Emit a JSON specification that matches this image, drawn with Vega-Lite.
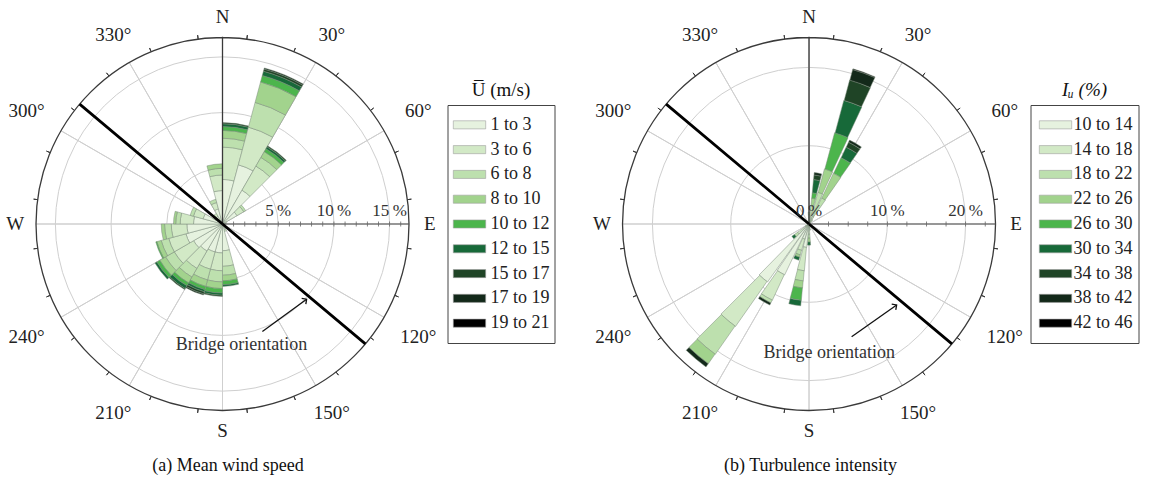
{
  "$schema": "https://vega.github.io/schema/vega-lite/v6.json",
  "background": "white",
  "padding": {"left": 5.5, "top": 7.5, "right": 0, "bottom": 0},
  "config": {"view": {"stroke": null}, "font": "Liberation Serif", "title": {"font": "Liberation Serif", "fontWeight": "normal", "color": "#111"}},
  "datasets": {
    "wsA": [
      {"d0":0,"d1":15,"l":1,"f":4.0},{"d0":0,"d1":15,"l":2,"f":2.9},{"d0":0,"d1":15,"l":3,"f":0.8},{"d0":0,"d1":15,"l":4,"f":0.7},{"d0":0,"d1":15,"l":5,"f":0.35},{"d0":0,"d1":15,"l":6,"f":0.25},{"d0":0,"d1":15,"l":7,"f":0.1},
      {"d0":15,"d1":30,"l":1,"f":5.5},{"d0":15,"d1":30,"l":2,"f":3.5},{"d0":15,"d1":30,"l":3,"f":2.3},{"d0":15,"d1":30,"l":4,"f":1.9},{"d0":15,"d1":30,"l":5,"f":0.6},{"d0":15,"d1":30,"l":6,"f":0.4},{"d0":15,"d1":30,"l":7,"f":0.2},{"d0":15,"d1":30,"l":8,"f":0.1},
      {"d0":30,"d1":45,"l":1,"f":3.5},{"d0":30,"d1":45,"l":2,"f":2.5},{"d0":30,"d1":45,"l":3,"f":0.9},{"d0":30,"d1":45,"l":4,"f":0.6},{"d0":30,"d1":45,"l":5,"f":0.3},{"d0":30,"d1":45,"l":6,"f":0.2},{"d0":30,"d1":45,"l":7,"f":0.1},
      {"d0":45,"d1":60,"l":1,"f":1.5},{"d0":45,"d1":60,"l":2,"f":0.7},{"d0":45,"d1":60,"l":3,"f":0.2},
      {"d0":60,"d1":75,"l":1,"f":0.4},
      {"d0":75,"d1":90,"l":1,"f":0.3},
      {"d0":90,"d1":105,"l":1,"f":0.3},
      {"d0":105,"d1":120,"l":1,"f":0.3},
      {"d0":120,"d1":135,"l":1,"f":0.3},
      {"d0":135,"d1":150,"l":1,"f":0.3},
      {"d0":150,"d1":165,"l":1,"f":0.5},{"d0":150,"d1":165,"l":2,"f":0.2},
      {"d0":165,"d1":180,"l":1,"f":2.4},{"d0":165,"d1":180,"l":2,"f":1.4},{"d0":165,"d1":180,"l":3,"f":0.8},{"d0":165,"d1":180,"l":4,"f":0.5},{"d0":165,"d1":180,"l":5,"f":0.35},{"d0":165,"d1":180,"l":6,"f":0.15},
      {"d0":180,"d1":195,"l":1,"f":2.6},{"d0":180,"d1":195,"l":2,"f":1.6},{"d0":180,"d1":195,"l":3,"f":1.0},{"d0":180,"d1":195,"l":4,"f":0.6},{"d0":180,"d1":195,"l":5,"f":0.4},{"d0":180,"d1":195,"l":6,"f":0.2},{"d0":180,"d1":195,"l":7,"f":0.1},
      {"d0":195,"d1":210,"l":1,"f":2.6},{"d0":195,"d1":210,"l":2,"f":1.6},{"d0":195,"d1":210,"l":3,"f":1.0},{"d0":195,"d1":210,"l":4,"f":0.6},{"d0":195,"d1":210,"l":5,"f":0.3},{"d0":195,"d1":210,"l":6,"f":0.2},{"d0":195,"d1":210,"l":7,"f":0.2},{"d0":195,"d1":210,"l":8,"f":0.1},
      {"d0":210,"d1":225,"l":1,"f":2.8},{"d0":210,"d1":225,"l":2,"f":1.8},{"d0":210,"d1":225,"l":3,"f":0.9},{"d0":210,"d1":225,"l":4,"f":0.6},{"d0":210,"d1":225,"l":5,"f":0.3},{"d0":210,"d1":225,"l":6,"f":0.3},{"d0":210,"d1":225,"l":7,"f":0.1},
      {"d0":225,"d1":240,"l":1,"f":3.0},{"d0":225,"d1":240,"l":2,"f":2.0},{"d0":225,"d1":240,"l":3,"f":0.9},{"d0":225,"d1":240,"l":4,"f":0.6},{"d0":225,"d1":240,"l":5,"f":0.3},{"d0":225,"d1":240,"l":6,"f":0.2},
      {"d0":240,"d1":255,"l":1,"f":3.4},{"d0":240,"d1":255,"l":2,"f":1.6},{"d0":240,"d1":255,"l":3,"f":0.7},{"d0":240,"d1":255,"l":4,"f":0.4},{"d0":240,"d1":255,"l":5,"f":0.1},
      {"d0":255,"d1":270,"l":1,"f":3.2},{"d0":255,"d1":270,"l":2,"f":1.4},{"d0":255,"d1":270,"l":3,"f":0.6},{"d0":255,"d1":270,"l":4,"f":0.3},
      {"d0":270,"d1":285,"l":1,"f":2.6},{"d0":270,"d1":285,"l":2,"f":1.2},{"d0":270,"d1":285,"l":3,"f":0.4},{"d0":270,"d1":285,"l":4,"f":0.2},
      {"d0":285,"d1":300,"l":1,"f":1.8},{"d0":285,"d1":300,"l":2,"f":0.9},{"d0":285,"d1":300,"l":3,"f":0.3},
      {"d0":300,"d1":315,"l":1,"f":0.7},{"d0":300,"d1":315,"l":2,"f":0.3},
      {"d0":315,"d1":330,"l":1,"f":0.8},{"d0":315,"d1":330,"l":2,"f":0.3},
      {"d0":330,"d1":345,"l":1,"f":1.4},{"d0":330,"d1":345,"l":2,"f":0.6},{"d0":330,"d1":345,"l":3,"f":0.3},
      {"d0":345,"d1":360,"l":1,"f":3.0},{"d0":345,"d1":360,"l":2,"f":1.4},{"d0":345,"d1":360,"l":3,"f":0.6},{"d0":345,"d1":360,"l":4,"f":0.4}
    ],
    "tiB": [
      {"d0":-5,"d1":5,"l":1,"f":0.3},{"d0":-5,"d1":5,"l":2,"f":0.5},{"d0":-5,"d1":5,"l":3,"f":0.4},{"d0":-5,"d1":5,"l":4,"f":0.3},
      {"d0":5,"d1":15,"l":1,"f":0.3},{"d0":5,"d1":15,"l":2,"f":0.7},{"d0":5,"d1":15,"l":3,"f":1.3},{"d0":5,"d1":15,"l":4,"f":1.0},{"d0":5,"d1":15,"l":5,"f":0.7},{"d0":5,"d1":15,"l":6,"f":1.7},{"d0":5,"d1":15,"l":7,"f":0.6},{"d0":5,"d1":15,"l":8,"f":0.3},
      {"d0":15,"d1":25,"l":1,"f":0.3},{"d0":15,"d1":25,"l":2,"f":1.0},{"d0":15,"d1":25,"l":3,"f":2.9},{"d0":15,"d1":25,"l":4,"f":3.1},{"d0":15,"d1":25,"l":5,"f":4.8},{"d0":15,"d1":25,"l":6,"f":4.3},{"d0":15,"d1":25,"l":7,"f":2.7},{"d0":15,"d1":25,"l":8,"f":1.4},{"d0":15,"d1":25,"l":9,"f":0.1},
      {"d0":25,"d1":35,"l":1,"f":0.3},{"d0":25,"d1":35,"l":2,"f":0.8},{"d0":25,"d1":35,"l":3,"f":2.6},{"d0":25,"d1":35,"l":4,"f":3.5},{"d0":25,"d1":35,"l":5,"f":2.2},{"d0":25,"d1":35,"l":6,"f":1.5},{"d0":25,"d1":35,"l":7,"f":0.7},{"d0":25,"d1":35,"l":8,"f":0.3},
      {"d0":35,"d1":45,"l":1,"f":0.3},{"d0":35,"d1":45,"l":2,"f":0.4},
      {"d0":165,"d1":175,"l":1,"f":0.4},{"d0":165,"d1":175,"l":2,"f":0.4},
      {"d0":175,"d1":185,"l":1,"f":0.5},{"d0":175,"d1":185,"l":2,"f":0.8},{"d0":175,"d1":185,"l":3,"f":0.5},{"d0":175,"d1":185,"l":4,"f":0.5},{"d0":175,"d1":185,"l":6,"f":0.4},
      {"d0":185,"d1":195,"l":1,"f":3.0},{"d0":185,"d1":195,"l":2,"f":3.0},{"d0":185,"d1":195,"l":3,"f":1.3},{"d0":185,"d1":195,"l":4,"f":0.9},{"d0":185,"d1":195,"l":5,"f":1.6},{"d0":185,"d1":195,"l":6,"f":0.7},
      {"d0":195,"d1":205,"l":1,"f":2.0},{"d0":195,"d1":205,"l":2,"f":1.5},{"d0":195,"d1":205,"l":3,"f":0.6},{"d0":195,"d1":205,"l":4,"f":0.3},{"d0":195,"d1":205,"l":6,"f":0.4},
      {"d0":205,"d1":215,"l":1,"f":7.2},{"d0":205,"d1":215,"l":2,"f":3.6},{"d0":205,"d1":215,"l":3,"f":0.4},{"d0":205,"d1":215,"l":8,"f":0.3},
      {"d0":215,"d1":225,"l":1,"f":9.1},{"d0":215,"d1":225,"l":2,"f":7.0},{"d0":215,"d1":225,"l":3,"f":4.4},{"d0":215,"d1":225,"l":4,"f":1.5},{"d0":215,"d1":225,"l":8,"f":0.5},
      {"d0":225,"d1":235,"l":1,"f":0.8},{"d0":225,"d1":235,"l":2,"f":1.0},{"d0":225,"d1":235,"l":3,"f":0.5},{"d0":225,"d1":235,"l":6,"f":0.4},
      {"d0":235,"d1":245,"l":1,"f":0.3},{"d0":235,"d1":245,"l":2,"f":0.3}
    ],
    "legA": [
      {"l":1,"lab":"\u00a0\u00a01 to 3"},{"l":2,"lab":"\u00a0\u00a03 to 6"},{"l":3,"lab":"\u00a0\u00a06 to 8"},{"l":4,"lab":"8 to 10"},{"l":5,"lab":"10 to 12"},{"l":6,"lab":"12 to 15"},{"l":7,"lab":"15 to 17"},{"l":8,"lab":"17 to 19"},{"l":9,"lab":"19 to 21"}
    ],
    "legB": [
      {"l":1,"lab":"10 to 14"},{"l":2,"lab":"14 to 18"},{"l":3,"lab":"18 to 22"},{"l":4,"lab":"22 to 26"},{"l":5,"lab":"26 to 30"},{"l":6,"lab":"30 to 34"},{"l":7,"lab":"34 to 38"},{"l":8,"lab":"38 to 42"},{"l":9,"lab":"42 to 46"}
    ],
    "spokes": [{"a":0},{"a":30},{"a":60},{"a":90},{"a":120},{"a":150},{"a":180},{"a":210},{"a":240},{"a":270},{"a":300},{"a":330}],
    "oticks": [{"a":7.5},{"a":22.5},{"a":37.5},{"a":52.5},{"a":67.5},{"a":82.5},{"a":97.5},{"a":112.5},{"a":127.5},{"a":142.5},{"a":157.5},{"a":172.5},{"a":187.5},{"a":202.5},{"a":217.5},{"a":232.5},{"a":247.5},{"a":262.5},{"a":277.5},{"a":292.5},{"a":307.5},{"a":322.5},{"a":337.5},{"a":352.5}],
    "bridge": [{"a":130},{"a":310}],
    "compass": [{"t":"N","a":0},{"t":"E","a":90},{"t":"S","a":180},{"t":"W","a":270}],
    "degA": [{"t":"30°","a":30},{"t":"150°","a":150},{"t":"210°","a":210},{"t":"330°","a":330}],
    "degB": [{"t":"60°","a":60},{"t":"120°","a":120},{"t":"240°","a":240},{"t":"300°","a":300}],
    "ticksA": [{"v":1},{"v":2},{"v":3},{"v":4},{"v":5},{"v":6},{"v":7},{"v":8},{"v":9},{"v":10},{"v":11},{"v":12},{"v":13},{"v":14},{"v":15},{"v":16}],
    "ticksB": [{"v":2.5},{"v":5},{"v":7.5},{"v":10},{"v":12.5},{"v":15},{"v":17.5},{"v":20},{"v":22.5}],
    "one": [{}]
  },
  "bounds": "flush",
  "center": true,
  "spacing": 20,
  "resolve": {"scale": {"theta": "independent", "radius": "independent", "x": "independent", "y": "independent"}},
  "hconcat": [
    {
      "width": 409, "height": 373,
      "title": {"text": "(a)  Mean wind speed", "orient": "bottom", "frame": "group", "anchor": "middle", "offset": 16, "fontSize": 18, "dx": 5},
      "layer": [
        {"data": {"values": [{"r":5},{"r":10},{"r":15}]}, "mark": {"type":"arc","fillOpacity":0,"stroke":"#cfcfcf","strokeWidth":1},
         "encoding": {"x": {"datum":0,"type":"quantitative","axis":null,"scale":{"domain":[-18.31,18.4],"nice":false,"zero":false}},
                      "y": {"datum":0,"type":"quantitative","axis":null,"scale":{"domain":[-16.74,16.74],"nice":false,"zero":false}},
                      "theta": {"datum":0,"type":"quantitative","scale":{"type":"linear","domain":[0,360],"range":[0,6.283185307],"nice":false,"zero":false}}, "theta2": {"datum":360},
                      "radius": {"field":"r","type":"quantitative","stack":null,"scale":{"type":"linear","domain":[0,16.74],"range":[0,186.5],"nice":false,"zero":true}}}},
        {"data": {"name":"spokes"}, "mark": {"type":"arc","fillOpacity":0,"stroke":"#cfcfcf","strokeWidth":1},
         "encoding": {"x": {"datum":0,"type":"quantitative"}, "y": {"datum":0,"type":"quantitative"},
                      "theta": {"field":"a","type":"quantitative","stack":null}, "theta2": {"field":"a"}, "radius": {"datum":16.74,"type":"quantitative"}}},
        {"data": {"name":"wsA"}, "transform": [{"stack":"f","groupby":["d0"],"sort":[{"field":"l","order":"ascending"}],"as":["r0","r1"]}],
         "mark": {"type":"arc","stroke":"#7a8a7a","strokeWidth":0.5},
         "encoding": {"x": {"datum":0,"type":"quantitative"}, "y": {"datum":0,"type":"quantitative"},
                      "theta": {"field":"d0","type":"quantitative","stack":null}, "theta2": {"field":"d1"},
                      "radius": {"field":"r1","type":"quantitative","stack":null}, "radius2": {"field":"r0"},
                      "color": {"field":"l","type":"ordinal","legend":null,"scale":{"domain":[1,2,3,4,5,6,7,8,9],"range":["#e6f2df","#d2e9c6","#bde0ae","#a2d38d","#4cb54c","#176939","#1f4426","#13291a","#000000"]}}}},
        {"data": {"name":"one"}, "mark": {"type":"arc","fillOpacity":0,"stroke":"#3a3a3a","strokeWidth":1.3},
         "encoding": {"x": {"datum":0,"type":"quantitative"}, "y": {"datum":0,"type":"quantitative"},
                      "theta": {"datum":0,"type":"quantitative"}, "theta2": {"datum":360}, "radius": {"datum":16.74,"type":"quantitative"}}},
        {"data": {"name":"oticks"}, "mark": {"type":"arc","fillOpacity":0,"stroke":"#3a3a3a","strokeWidth":1},
         "encoding": {"x": {"datum":0,"type":"quantitative"}, "y": {"datum":0,"type":"quantitative"},
                      "theta": {"field":"a","type":"quantitative","stack":null}, "theta2": {"field":"a"}, "radius": {"datum":17.1,"type":"quantitative"}, "radius2": {"datum":16.74}}},
        {"data": {"name":"one"}, "mark": {"type":"rule","stroke":"#555","strokeWidth":1.2},
         "encoding": {"x": {"datum":0,"type":"quantitative"}, "x2": {"datum":16.74}, "y": {"datum":0,"type":"quantitative"}}},
        {"data": {"name":"ticksA"}, "mark": {"type":"tick","orient":"vertical","size":5,"thickness":0.8,"color":"#666","opacity":1},
         "encoding": {"x": {"field":"v","type":"quantitative"}, "y": {"datum":0,"type":"quantitative"}}},
        {"data": {"name":"bridge"}, "mark": {"type":"arc","fillOpacity":0,"stroke":"#000","strokeWidth":2.8},
         "encoding": {"x": {"datum":0,"type":"quantitative"}, "y": {"datum":0,"type":"quantitative"},
                      "theta": {"field":"a","type":"quantitative","stack":null}, "theta2": {"field":"a"}, "radius": {"datum":16.74,"type":"quantitative"}}},
        {"data": {"name":"one"}, "mark": {"type":"rule","stroke":"#111","strokeWidth":1.3},
         "encoding": {"x": {"datum":3.58,"type":"quantitative"}, "y": {"datum":-9.65,"type":"quantitative"}, "x2": {"datum":7.55}, "y2": {"datum":-6.75}}},
        {"data": {"name":"one"}, "mark": {"type":"point","shape":"M-1,1L0,0L1,1","filled":false,"stroke":"#111","strokeWidth":1.3,"size":50,"angle":54,"opacity":1},
         "encoding": {"x": {"datum":7.55,"type":"quantitative"}, "y": {"datum":-6.75,"type":"quantitative"}}},
        {"data": {"name":"one"}, "mark": {"type":"text","text":"Bridge orientation","fontSize":18,"color":"#333","align":"center","baseline":"middle"},
         "encoding": {"x": {"datum":1.7,"type":"quantitative"}, "y": {"datum":-10.84,"type":"quantitative"}}},
        {"data": {"values": [{"v":5,"t":"5\u2009%"},{"v":10,"t":"10\u2009%"},{"v":15,"t":"15\u2009%"}]}, "mark": {"type":"text","fontSize":17,"color":"#333","align":"center","baseline":"alphabetic","dy":-8},
         "encoding": {"x": {"field":"v","type":"quantitative"}, "y": {"datum":0,"type":"quantitative"}, "text": {"field":"t"}}},
        {"data": {"name":"compass"}, "mark": {"type":"text","fontSize":19,"color":"#222","align":"center","baseline":"middle"},
         "encoding": {"x": {"datum":0,"type":"quantitative"}, "y": {"datum":0,"type":"quantitative"},
                      "theta": {"field":"a","type":"quantitative","stack":null}, "radius": {"datum":18.6,"type":"quantitative"}, "text": {"field":"t"}}},
        {"data": {"name":"degA"}, "mark": {"type":"text","fontSize":19,"color":"#222","align":"center","baseline":"middle"},
         "encoding": {"x": {"datum":0,"type":"quantitative"}, "y": {"datum":0,"type":"quantitative"},
                      "theta": {"field":"a","type":"quantitative","stack":null}, "radius": {"datum":19.6,"type":"quantitative"}, "text": {"field":"t"}}},
        {"data": {"name":"degB"}, "mark": {"type":"text","fontSize":19,"color":"#222","align":"center","baseline":"middle"},
         "encoding": {"x": {"datum":0,"type":"quantitative"}, "y": {"datum":0,"type":"quantitative"},
                      "theta": {"field":"a","type":"quantitative","stack":null}, "radius": {"datum":20.3,"type":"quantitative"}, "text": {"field":"t"}}}
      ]
    },
    {
      "width": 107, "height": 238,
      "view": {"stroke": "#444", "strokeWidth": 1},
      "title": {"text": "U\u0305 (m/s)", "orient": "top", "frame": "group", "anchor": "middle", "offset": 5, "fontSize": 19},
      "data": {"name": "legA"},
      "layer": [
        {"mark": {"type":"point","shape":"M-1,-0.25H1V0.25H-1Z","size":1050,"filled":true,"stroke":"#a0a0a0","strokeWidth":0.6,"opacity":1},
         "encoding": {"y": {"field":"l","type":"ordinal","axis":null,"scale":{"type":"point","padding":0.8}},
                      "x": {"value":22},
                      "fill": {"field":"l","type":"ordinal","legend":null,"scale":{"domain":[1,2,3,4,5,6,7,8,9],"range":["#e6f2df","#d2e9c6","#bde0ae","#a2d38d","#4cb54c","#176939","#1f4426","#13291a","#000000"]}}}},
        {"mark": {"type":"text","align":"left","baseline":"middle","fontSize":18,"color":"#222"},
         "encoding": {"y": {"field":"l","type":"ordinal","axis":null,"scale":{"type":"point","padding":0.8}},
                      "x": {"value":43}, "text": {"field":"lab"}}}
      ]
    },
    {
      "width": 436, "height": 373,
      "title": {"text": "(b)  Turbulence intensity", "orient": "bottom", "frame": "group", "anchor": "middle", "offset": 16, "fontSize": 18, "dx": 18},
      "layer": [
        {"data": {"values": [{"r":10},{"r":20}]}, "mark": {"type":"arc","fillOpacity":0,"stroke":"#cfcfcf","strokeWidth":1},
         "encoding": {"x": {"datum":0,"type":"quantitative","axis":null,"scale":{"domain":[-29.95,25.73],"nice":false,"zero":false}},
                      "y": {"datum":0,"type":"quantitative","axis":null,"scale":{"domain":[-23.82,23.82],"nice":false,"zero":false}},
                      "theta": {"datum":0,"type":"quantitative","scale":{"type":"linear","domain":[0,360],"range":[0,6.283185307],"nice":false,"zero":false}}, "theta2": {"datum":360},
                      "radius": {"field":"r","type":"quantitative","stack":null,"scale":{"type":"linear","domain":[0,23.82],"range":[0,186.5],"nice":false,"zero":true}}}},
        {"data": {"name":"spokes"}, "mark": {"type":"arc","fillOpacity":0,"stroke":"#cfcfcf","strokeWidth":1},
         "encoding": {"x": {"datum":0,"type":"quantitative"}, "y": {"datum":0,"type":"quantitative"},
                      "theta": {"field":"a","type":"quantitative","stack":null}, "theta2": {"field":"a"}, "radius": {"datum":23.82,"type":"quantitative"}}},
        {"data": {"name":"tiB"}, "transform": [{"stack":"f","groupby":["d0"],"sort":[{"field":"l","order":"ascending"}],"as":["r0","r1"]}],
         "mark": {"type":"arc","stroke":"#7a8a7a","strokeWidth":0.5,"padAngle":0.02},
         "encoding": {"x": {"datum":0,"type":"quantitative"}, "y": {"datum":0,"type":"quantitative"},
                      "theta": {"field":"d0","type":"quantitative","stack":null}, "theta2": {"field":"d1"},
                      "radius": {"field":"r1","type":"quantitative","stack":null}, "radius2": {"field":"r0"},
                      "color": {"field":"l","type":"ordinal","legend":null}}},
        {"data": {"name":"one"}, "mark": {"type":"arc","fillOpacity":0,"stroke":"#3a3a3a","strokeWidth":1.3},
         "encoding": {"x": {"datum":0,"type":"quantitative"}, "y": {"datum":0,"type":"quantitative"},
                      "theta": {"datum":0,"type":"quantitative"}, "theta2": {"datum":360}, "radius": {"datum":23.82,"type":"quantitative"}}},
        {"data": {"name":"oticks"}, "mark": {"type":"arc","fillOpacity":0,"stroke":"#3a3a3a","strokeWidth":1},
         "encoding": {"x": {"datum":0,"type":"quantitative"}, "y": {"datum":0,"type":"quantitative"},
                      "theta": {"field":"a","type":"quantitative","stack":null}, "theta2": {"field":"a"}, "radius": {"datum":24.33,"type":"quantitative"}, "radius2": {"datum":23.82}}},
        {"data": {"name":"one"}, "mark": {"type":"rule","stroke":"#555","strokeWidth":1.2},
         "encoding": {"x": {"datum":0,"type":"quantitative"}, "x2": {"datum":23.82}, "y": {"datum":0,"type":"quantitative"}}},
        {"data": {"name":"ticksB"}, "mark": {"type":"tick","orient":"vertical","size":5,"thickness":0.8,"color":"#666","opacity":1},
         "encoding": {"x": {"field":"v","type":"quantitative"}, "y": {"datum":0,"type":"quantitative"}}},
        {"data": {"name":"bridge"}, "mark": {"type":"arc","fillOpacity":0,"stroke":"#000","strokeWidth":2.8},
         "encoding": {"x": {"datum":0,"type":"quantitative"}, "y": {"datum":0,"type":"quantitative"},
                      "theta": {"field":"a","type":"quantitative","stack":null}, "theta2": {"field":"a"}, "radius": {"datum":23.82,"type":"quantitative"}}},
        {"data": {"name":"one"}, "mark": {"type":"rule","stroke":"#111","strokeWidth":1.3},
         "encoding": {"x": {"datum":5.44,"type":"quantitative"}, "y": {"datum":-14.39,"type":"quantitative"}, "x2": {"datum":11.19}, "y2": {"datum":-10.34}}},
        {"data": {"name":"one"}, "mark": {"type":"point","shape":"M-1,1L0,0L1,1","filled":false,"stroke":"#111","strokeWidth":1.3,"size":50,"angle":55,"opacity":1},
         "encoding": {"x": {"datum":11.19,"type":"quantitative"}, "y": {"datum":-10.34,"type":"quantitative"}}},
        {"data": {"name":"one"}, "mark": {"type":"text","text":"Bridge orientation","fontSize":18,"color":"#333","align":"center","baseline":"middle"},
         "encoding": {"x": {"datum":2.57,"type":"quantitative"}, "y": {"datum":-16.44,"type":"quantitative"}}},
        {"data": {"values": [{"v":0,"t":"0\u2009%"},{"v":10,"t":"10\u2009%"},{"v":20,"t":"20\u2009%"}]}, "mark": {"type":"text","fontSize":17,"color":"#333","align":"center","baseline":"alphabetic","dy":-8},
         "encoding": {"x": {"field":"v","type":"quantitative"}, "y": {"datum":0,"type":"quantitative"}, "text": {"field":"t"}}},
        {"data": {"name":"compass"}, "mark": {"type":"text","fontSize":19,"color":"#222","align":"center","baseline":"middle"},
         "encoding": {"x": {"datum":0,"type":"quantitative"}, "y": {"datum":0,"type":"quantitative"},
                      "theta": {"field":"a","type":"quantitative","stack":null}, "radius": {"datum":26.44,"type":"quantitative"}, "text": {"field":"t"}}},
        {"data": {"name":"degA"}, "mark": {"type":"text","fontSize":19,"color":"#222","align":"center","baseline":"middle"},
         "encoding": {"x": {"datum":0,"type":"quantitative"}, "y": {"datum":0,"type":"quantitative"},
                      "theta": {"field":"a","type":"quantitative","stack":null}, "radius": {"datum":27.84,"type":"quantitative"}, "text": {"field":"t"}}},
        {"data": {"name":"degB"}, "mark": {"type":"text","fontSize":19,"color":"#222","align":"center","baseline":"middle"},
         "encoding": {"x": {"datum":0,"type":"quantitative"}, "y": {"datum":0,"type":"quantitative"},
                      "theta": {"field":"a","type":"quantitative","stack":null}, "radius": {"datum":28.86,"type":"quantitative"}, "text": {"field":"t"}}}
      ]
    },
    {
      "width": 108, "height": 238,
      "view": {"stroke": "#444", "strokeWidth": 1},
      "title": {"text": "I\u1d64 (%)", "orient": "top", "frame": "group", "anchor": "middle", "offset": 5, "fontSize": 19, "fontStyle": "italic"},
      "data": {"name": "legB"},
      "layer": [
        {"mark": {"type":"point","shape":"M-1,-0.25H1V0.25H-1Z","size":1050,"filled":true,"stroke":"#a0a0a0","strokeWidth":0.6,"opacity":1},
         "encoding": {"y": {"field":"l","type":"ordinal","axis":null,"scale":{"type":"point","padding":0.8}},
                      "x": {"value":25},
                      "fill": {"field":"l","type":"ordinal","legend":null,"scale":{"domain":[1,2,3,4,5,6,7,8,9],"range":["#e6f2df","#d2e9c6","#bde0ae","#a2d38d","#4cb54c","#176939","#1f4426","#13291a","#000000"]}}}},
        {"mark": {"type":"text","align":"left","baseline":"middle","fontSize":18,"color":"#222"},
         "encoding": {"y": {"field":"l","type":"ordinal","axis":null,"scale":{"type":"point","padding":0.8}},
                      "x": {"value":43}, "text": {"field":"lab"}}}
      ]
    }
  ]
}
